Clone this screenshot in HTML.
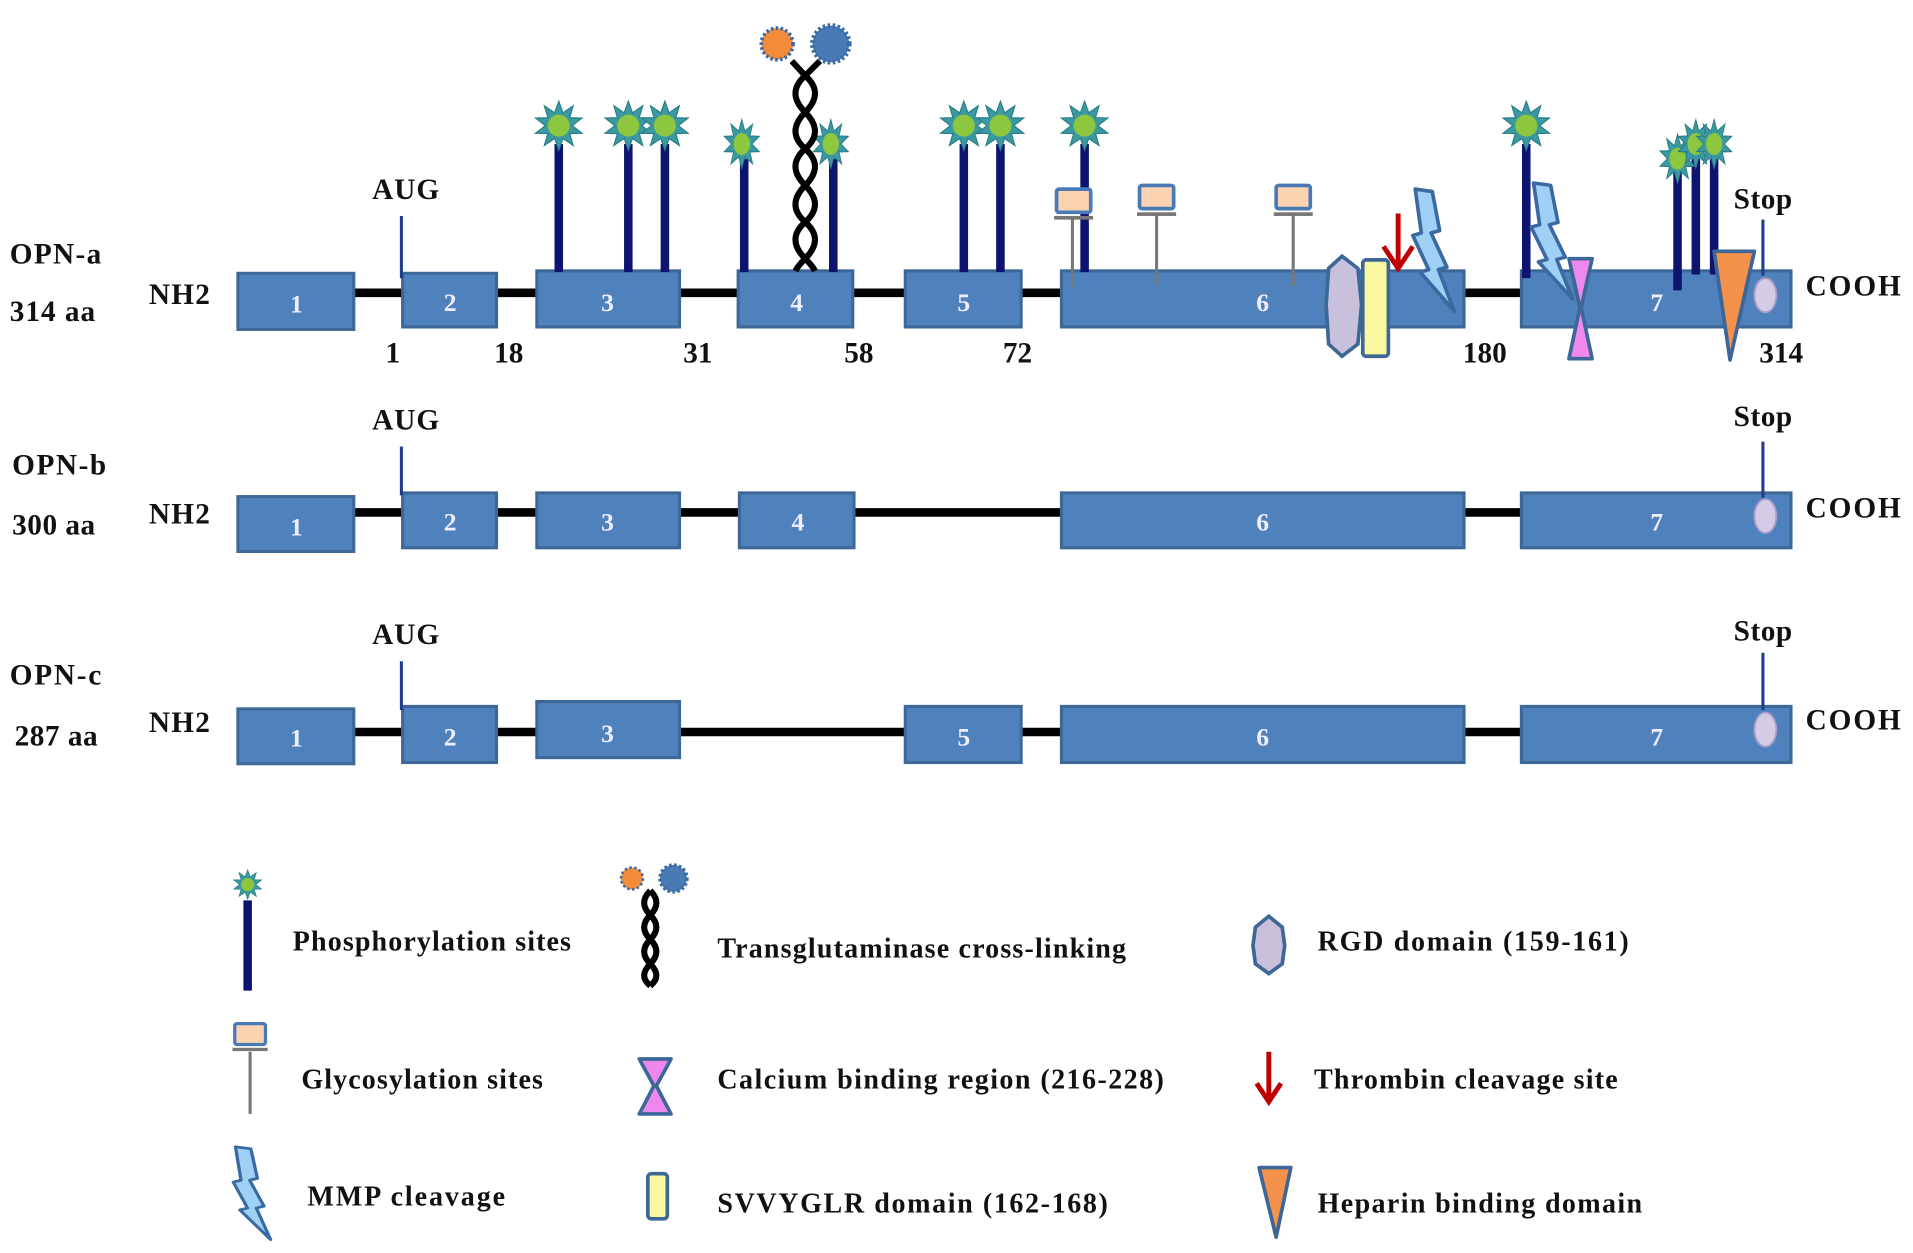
<!DOCTYPE html>
<html><head><meta charset="utf-8"><style>html,body{margin:0;padding:0;background:#fff}svg{display:block}text{font-family:"Liberation Serif",serif;font-weight:bold;fill:#111}</style></head>
<body>
<svg width="1913" height="1253" viewBox="0 0 1568 1027" preserveAspectRatio="none" xmlns="http://www.w3.org/2000/svg">
<defs>
<g id="star"><polygon points="0,-20 3.4,-10.5 11.8,-16.2 8.9,-6.5 19,-6.2 11,0 19,6.2 8.9,6.5 11.8,16.2 3.4,10.5 0,20 -3.4,10.5 -11.8,16.2 -8.9,6.5 -19,6.2 -11,0 -19,-6.2 -8.9,-6.5 -11.8,-16.2 -3.4,-10.5" fill="#3a9aa0" stroke="#2b7f8a" stroke-width="1"/><circle r="9" fill="#8dc63f"/></g>
<g id="gly"><rect x="-14" y="-10" width="28" height="19" rx="2" fill="#fbd3b0" stroke="#4a7ab5" stroke-width="3"/><rect x="-16" y="12" width="32" height="3" fill="#777"/></g>
<g id="bolt"><polygon points="0,0 14,2 20,34 13,36 26,64 19,66 32,100 4,68 11,66 -2,38 5,36" fill="#9fd0f5" stroke="#3a6aa0" stroke-width="3" stroke-linejoin="round"/></g>
</defs>
<g stroke="#000" stroke-width="7">
<line x1="290" y1="240" x2="1247" y2="240"/>
<line x1="290" y1="420" x2="1247" y2="420"/>
<line x1="290" y1="600" x2="1247" y2="600"/>
</g>
<g fill="#4f81bd" stroke="#3c6797" stroke-width="2.5">
<rect x="195" y="224" width="95" height="46"/><rect x="330" y="224" width="77" height="44"/><rect x="440" y="222" width="117" height="46"/><rect x="605" y="222" width="94" height="46"/><rect x="742" y="222" width="95" height="46"/><rect x="870" y="222" width="330" height="46"/><rect x="1247" y="222" width="221" height="46"/>
<rect x="195" y="407" width="95" height="45"/><rect x="330" y="404" width="77" height="45"/><rect x="440" y="404" width="117" height="45"/><rect x="606" y="404" width="94" height="45"/><rect x="870" y="404" width="330" height="45"/><rect x="1247" y="404" width="221" height="45"/>
<rect x="195" y="581" width="95" height="45"/><rect x="330" y="579" width="77" height="46"/><rect x="440" y="575" width="117" height="46"/><rect x="742" y="579" width="95" height="46"/><rect x="870" y="579" width="330" height="46"/><rect x="1247" y="579" width="221" height="46"/>
</g>
<g font-size="21" text-anchor="middle">
<text x="243" y="256" style="fill:#eef">1</text><text x="369" y="255" style="fill:#eef">2</text><text x="498" y="255" style="fill:#eef">3</text><text x="653" y="255" style="fill:#eef">4</text><text x="790" y="255" style="fill:#eef">5</text><text x="1035" y="255" style="fill:#eef">6</text><text x="1358" y="255" style="fill:#eef">7</text>
<text x="243" y="439" style="fill:#eef">1</text><text x="369" y="435" style="fill:#eef">2</text><text x="498" y="435" style="fill:#eef">3</text><text x="654" y="435" style="fill:#eef">4</text><text x="1035" y="435" style="fill:#eef">6</text><text x="1358" y="435" style="fill:#eef">7</text>
<text x="243" y="612" style="fill:#eef">1</text><text x="369" y="611" style="fill:#eef">2</text><text x="498" y="608" style="fill:#eef">3</text><text x="790" y="611" style="fill:#eef">5</text><text x="1035" y="611" style="fill:#eef">6</text><text x="1358" y="611" style="fill:#eef">7</text>
</g>
<g font-size="24">
<text x="8" y="216" textLength="75">OPN-a</text><text x="8" y="263" textLength="70">314 aa</text><text x="122" y="249" textLength="50">NH2</text><text x="1480" y="242" textLength="78">COOH</text>
<text x="10" y="389" textLength="77">OPN-b</text><text x="10" y="438" textLength="68">300 aa</text><text x="122" y="429" textLength="50">NH2</text><text x="1480" y="424" textLength="78">COOH</text>
<text x="8" y="561" textLength="75">OPN-c</text><text x="12" y="611" textLength="68">287 aa</text><text x="122" y="600" textLength="50">NH2</text><text x="1480" y="598" textLength="78">COOH</text>
<text x="305" y="163" textLength="55">AUG</text><text x="305" y="352" textLength="55">AUG</text><text x="305" y="528" textLength="55">AUG</text>
<text x="1421" y="171" textLength="48">Stop</text><text x="1421" y="349" textLength="48">Stop</text><text x="1421" y="525" textLength="48">Stop</text>
<text x="316" y="297">1</text><text x="405" y="297">18</text><text x="560" y="297">31</text><text x="692" y="297">58</text><text x="822" y="297">72</text><text x="1199" y="297">180</text><text x="1442" y="297">314</text>
</g>
<g stroke="#1f3d8a" stroke-width="2.5">
<line x1="329" y1="177" x2="329" y2="228"/><line x1="329" y1="366" x2="329" y2="406"/><line x1="329" y1="542" x2="329" y2="582"/>
<line x1="1445" y1="180" x2="1445" y2="226"/><line x1="1445" y1="362" x2="1445" y2="408"/><line x1="1445" y1="535" x2="1445" y2="582"/>
</g>
<g fill="#d4cce6" stroke="#a99cc8" stroke-width="1.5">
<ellipse cx="1447" cy="242" rx="9" ry="14"/><ellipse cx="1447" cy="423" rx="9" ry="14"/><ellipse cx="1447" cy="598" rx="9" ry="14"/>
</g>
<g stroke="#0d1470" stroke-width="7">
<line x1="458" y1="118" x2="458" y2="223"/><line x1="515" y1="118" x2="515" y2="223"/><line x1="545" y1="118" x2="545" y2="223"/>
<line x1="610" y1="130" x2="610" y2="223"/><line x1="683" y1="130" x2="683" y2="223"/>
<line x1="790" y1="118" x2="790" y2="223"/><line x1="820" y1="118" x2="820" y2="223"/><line x1="889" y1="118" x2="889" y2="223"/>
<line x1="1251" y1="118" x2="1251" y2="228"/><line x1="1375" y1="140" x2="1375" y2="238"/><line x1="1390" y1="130" x2="1390" y2="225"/><line x1="1405" y1="130" x2="1405" y2="225"/>
<line x1="203" y1="738" x2="203" y2="812"/>
</g>
<use href="#star" x="458" y="103"/><use href="#star" x="515" y="103"/><use href="#star" x="545" y="103"/>
<use href="#star" transform="translate(608,118) scale(0.75,1)"/><use href="#star" transform="translate(681,118) scale(0.75,1)"/>
<use href="#star" x="790" y="103"/><use href="#star" x="820" y="103"/><use href="#star" x="889" y="103"/><use href="#star" x="1251" y="103"/>
<use href="#star" transform="translate(1375,130) scale(0.75,1)"/><use href="#star" transform="translate(1390,118) scale(0.75,1)"/><use href="#star" transform="translate(1405,118) scale(0.75,1)"/>
<use href="#star" transform="translate(203,725) scale(0.6)"/>
<g fill="none" stroke="#000" stroke-width="5">
<path d="M660,62 Q676,76 660,92 T660,122 T660,152 T660,182 T660,212 Q654,218 652,222"/>
<path d="M660,62 Q644,76 660,92 T660,122 T660,152 T660,182 T660,212 Q666,218 668,222"/>
<path d="M649,50 L660,62 M672,50 L660,62"/>
<path d="M533,730 Q543,740 533,750 T533,770 T533,790 T533,808"/>
<path d="M533,730 Q523,740 533,750 T533,770 T533,790 T533,808"/>
</g>
<circle cx="637" cy="36" r="13" fill="#f28c3a" stroke="#2f68b0" stroke-width="3" stroke-dasharray="2 2"/>
<circle cx="681" cy="36" r="15" fill="#4a7ab5" stroke="#3a6aa0" stroke-width="4" stroke-dasharray="2 2"/>
<circle cx="518" cy="720" r="9" fill="#f28c3a" stroke="#2f68b0" stroke-width="2" stroke-dasharray="2 2"/>
<circle cx="552" cy="720" r="11" fill="#4a7ab5" stroke="#3a6aa0" stroke-width="3" stroke-dasharray="2 2"/>
<g stroke="#777" stroke-width="2.5"><line x1="879" y1="178" x2="879" y2="236"/><line x1="948" y1="176" x2="948" y2="234"/><line x1="1060" y1="176" x2="1060" y2="234"/><line x1="205" y1="862" x2="205" y2="913"/></g>
<use href="#gly" x="880" y="165"/><use href="#gly" x="948" y="162"/><use href="#gly" x="1060" y="162"/><use href="#gly" transform="translate(205,848) scale(0.9)"/>
<polygon points="1100,210 1113,220 1116,250 1113,282 1100,292 1089,282 1087,250 1089,220" fill="#c9c0dc" stroke="#3c6797" stroke-width="3"/>
<rect x="1117" y="213" width="21" height="79" rx="3" fill="#fbf7a0" stroke="#3c6797" stroke-width="3"/>
<polygon points="1040,751 1051,760 1053,775 1051,790 1040,798 1029,790 1027,775 1029,760" fill="#c9c0dc" stroke="#3c6797" stroke-width="3"/>
<rect x="531" y="962" width="16" height="37" rx="3" fill="#fbf7a0" stroke="#3c6797" stroke-width="3"/>
<g stroke="#c00000" stroke-width="4" fill="none"><line x1="1146" y1="175" x2="1146" y2="220"/><polyline points="1134,202 1146,220 1158,202"/>
<line x1="1040" y1="862" x2="1040" y2="903"/><polyline points="1030,888 1040,903 1050,888"/></g>
<use href="#bolt" transform="translate(1160,155)"/>
<use href="#bolt" transform="translate(1257,150) scale(1,0.95)"/>
<use href="#bolt" transform="translate(193,940) scale(0.9,0.76)"/>
<polygon points="1286,212 1305,212 1296,252 1305,294 1286,294 1295,252" fill="#ee88ee" stroke="#3c6797" stroke-width="3" stroke-linejoin="round"/>
<polygon points="524,868 550,868 538,890 550,913 524,913 536,890" fill="#ee88ee" stroke="#3c6797" stroke-width="3" stroke-linejoin="round"/>
<polygon points="1405,206 1438,206 1418,295" fill="#f4914a" stroke="#3c6797" stroke-width="3" stroke-linejoin="round"/>
<polygon points="1032,957 1058,957 1046,1014" fill="#f4914a" stroke="#3c6797" stroke-width="3" stroke-linejoin="round"/>
<g font-size="23">
<text x="240" y="779" textLength="228">Phosphorylation sites</text>
<text x="588" y="785" textLength="335">Transglutaminase cross-linking</text>
<text x="1080" y="779" textLength="255">RGD domain (159-161)</text>
<text x="247" y="892" textLength="198">Glycosylation sites</text>
<text x="588" y="892" textLength="366">Calcium binding region (216-228)</text>
<text x="1077" y="892" textLength="249">Thrombin cleavage site</text>
<text x="252" y="988" textLength="162">MMP cleavage</text>
<text x="588" y="994" textLength="320">SVVYGLR domain (162-168)</text>
<text x="1080" y="994" textLength="266">Heparin binding domain</text>
</g>
</svg>
</body></html>
